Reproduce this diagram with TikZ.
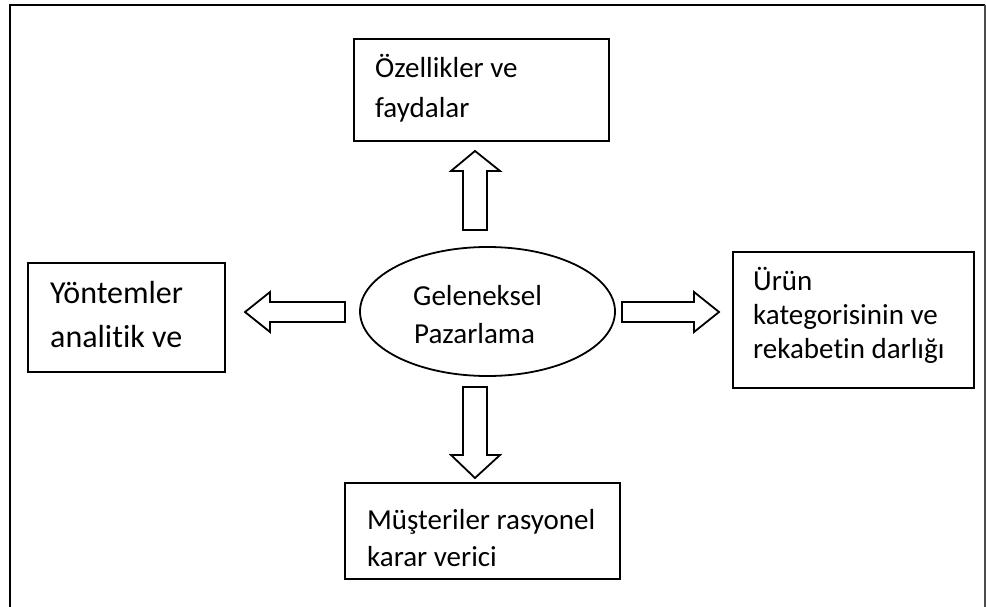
\documentclass[tikz,border=0pt]{standalone}
\usepackage{fontspec}
\setmainfont{Carlito}[Ligatures={NoCommon,NoContextual}]
\usetikzlibrary{shapes.geometric}
\tikzset{
  boxnode/.style={draw=black, line width=1.8pt, rectangle, inner sep=0pt},
  ellnode/.style={draw=black, line width=1.8pt, ellipse, inner sep=0pt},
  txt/.style={anchor=base west, inner sep=0pt, font=\fontsize{29}{35}\selectfont},
  bigtxt/.style={anchor=base west, inner sep=0pt, font=\fontsize{32}{38}\selectfont},
  blockarrow/.style={draw=black, line width=1.8pt, fill=white, line join=miter}
}
\begin{document}
\begin{tikzpicture}[x=1pt,y=-1pt]
\useasboundingbox (0,0) rectangle (986,607);
\fill[white] (0,0) rectangle (986,607);
% outer frame (open at bottom)
\draw[black, line width=2.4pt] (10,607) -- (10,5) -- (985,5);
\draw[black!70, line width=1.8pt] (985,5) -- (985,607);

% boxes
\node[boxnode, minimum width=255pt, minimum height=102pt] (top) at (481.5,90) {};
\node[txt] (t1) at (375,78) {Özellikler ve};
\node[txt] (t2) at (375,118) {faydalar};

\node[boxnode, minimum width=197pt, minimum height=109pt] (left) at (126.5,317.5) {};
\node[bigtxt] (l1) at (50,303) {Yöntemler};
\node[bigtxt] (l2) at (50,347) {analitik ve};

\node[boxnode, minimum width=241pt, minimum height=136pt] (right) at (853.5,320) {};
\node[txt] (r1) at (753,290) {Ürün};
\node[txt] (r2) at (753,324) {kategorisinin ve};
\node[txt] (r3) at (753,358) {rekabetin darlığı};

\node[boxnode, minimum width=275pt, minimum height=96pt] (bottom) at (482.5,531) {};
\node[txt] (b1) at (367,529) {Müşteriler rasyonel};
\node[txt] (b2) at (367,566) {karar verici};

% central ellipse
\node[ellnode, minimum width=255pt, minimum height=129pt] (center) at (487.5,311.5) {};
\node[txt] (c1) at (413,305) {Geleneksel};
\node[txt] (c2) at (414,343) {Pazarlama};

% block arrows
\draw[blockarrow] (463,230) -- (463,171) -- (451,171) -- (475,151) -- (500,171) -- (487,171) -- (487,230) -- cycle;
\draw[blockarrow] (463,387) -- (487,387) -- (487,455) -- (500,455) -- (475,478) -- (451,455) -- (463,455) -- cycle;
\draw[blockarrow] (345,302) -- (345,322) -- (270,322) -- (270,332) -- (245,312) -- (270,292) -- (270,302) -- cycle;
\draw[blockarrow] (622,302) -- (694,302) -- (694,292) -- (719,312) -- (694,332) -- (694,322) -- (622,322) -- cycle;
\end{tikzpicture}
\end{document}
